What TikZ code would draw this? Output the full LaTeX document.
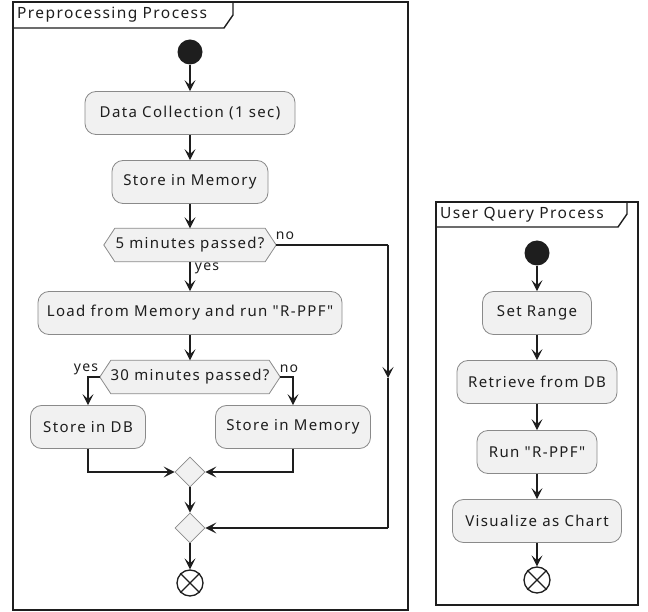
\documentclass[tikz,border=0pt]{standalone}
\usepackage{fontspec}
\setmainfont{Noto Sans}[LetterSpace=9, Ligatures=TeXOff]
\usetikzlibrary{arrows.meta,shapes.geometric,backgrounds,calc}
\definecolor{boxfill}{HTML}{F1F1F1}
\definecolor{boxline}{HTML}{8A8A8A}
\definecolor{ink}{HTML}{1E1E1E}
\newcommand{\actfont}{\fontsize{15}{17}\selectfont}
\begin{document}
\begin{tikzpicture}[x=1pt,y=-1pt,
  act/.style={draw=boxline, fill=boxfill, rounded corners=11pt, minimum height=43pt, inner xsep=4pt, font=\actfont, text=ink, line width=0.8pt},
  hexa/.style={minimum height=33pt, inner sep=0pt, font=\actfont, text=ink},
  hexpath/.style={draw=boxline, fill=boxfill, line width=0.8pt},
  merge/.style={diamond, draw=boxline, fill=boxfill, minimum width=30pt, minimum height=30pt, inner sep=0pt, line width=0.8pt},
  startnode/.style={circle, fill=ink, minimum size=25pt, inner sep=0pt},
  endnode/.style={circle, draw=ink, line width=1.3pt, minimum size=26pt, inner sep=0pt},
  flow/.style={draw=ink, line width=1.1pt, -{Stealth[length=11pt,width=11pt,inset=5pt]}},
  plain/.style={draw=ink, line width=1.1pt},
  lbl/.style={font=\fontsize{14}{16}\selectfont, text=ink, inner sep=1pt},
  frame/.style={draw=ink, line width=1.4pt},
  ftitle/.style={font=\fontsize{15.5}{17}\selectfont, text=ink, anchor=west, inner sep=0pt}
]
\useasboundingbox (0,0) rectangle (648,612);

% ---------- left frame ----------
\draw[frame] (13,2) rectangle (408,610);
\draw[frame] (13,28) -- (224,28) -- (233,15) -- (233,2);
\node[ftitle] (t1) at (17,15) {Preprocessing Process};

\node[startnode] (s1) at (190,52) {};
\node[act, minimum width=210pt] (a1) at (190,113) {Data Collection (1 sec)};
\node[act, minimum width=156pt] (a2) at (190,182) {Store in Memory};
\node[hexa, minimum width=172pt] (d1) at (190,245) {5 minutes passed?};
\node[act, minimum width=304pt] (a3) at (190,313) {Load from Memory and run "R-PPF"};
\node[hexa, minimum width=180pt] (d2) at (190,377) {30 minutes passed?};
\node[act, minimum width=115pt] (a4) at (88,427) {Store in DB};
\node[act, minimum width=155pt] (a5) at (293,427) {Store in Memory};
\node[merge] (m1) at (190,472) {};
\node[merge] (m2) at (190,528) {};
\node[endnode] (e1) at (190,583) {};
\draw[ink, line width=1.3pt] (e1.45) -- (e1.225) (e1.135) -- (e1.315);

\begin{scope}[on background layer]
\fill[white] (0,0) rectangle (648,612);
\path[hexpath] ([xshift=11pt]d1.north west) -- ([xshift=-11pt]d1.north east) -- (d1.east) -- ([xshift=-11pt]d1.south east) -- ([xshift=11pt]d1.south west) -- (d1.west) -- cycle;
\path[hexpath] ([xshift=11pt]d2.north west) -- ([xshift=-11pt]d2.north east) -- (d2.east) -- ([xshift=-11pt]d2.south east) -- ([xshift=11pt]d2.south west) -- (d2.west) -- cycle;
\end{scope}

\coordinate (c1) at (388,245);
\coordinate (cm) at (388,378);
\coordinate (c2) at (388,528);

\draw[flow] (s1) -- (a1);
\draw[flow] (a1) -- (a2);
\draw[flow] (a2) -- (d1);
\draw[flow] (d1) -- (a3);
\node[lbl] (ly1) at (207,268) {yes};
\draw[plain] (d1.east) -- (c1);
\node[lbl] (ln1) at (285,236) {no};
\draw[flow] (c1) -- (cm);
\draw[plain] (cm) -- (c2);
\draw[flow] (c2) -- (m2.east);
\draw[flow] (a3) -- (d2);
\draw[flow] (d2.west) -| (a4.north);
\draw[flow] (d2.east) -| (a5.north);
\node[lbl] (ly2) at (86,369) {yes};
\node[lbl] (ln2) at (289,369) {no};
\draw[flow] (a4.south) |- (m1.west);
\draw[flow] (a5.south) |- (m1.east);
\draw[flow] (m1) -- (m2);
\draw[flow] (m2) -- (e1);

% ---------- right frame ----------
\draw[frame] (436,202) rectangle (638,605);
\draw[frame] (436,227) -- (618,227) -- (627,214) -- (627,202);
\node[ftitle] (t2) at (440,214.5) {User Query Process};

\node[startnode] (s2) at (537,253) {};
\node[act, minimum width=109pt] (b1) at (537,313) {Set Range};
\node[act, minimum width=160pt] (b2) at (537,382) {Retrieve from DB};
\node[act, minimum width=120pt] (b3) at (537,452) {Run "R-PPF"};
\node[act, minimum width=169pt] (b4) at (537,521) {Visualize as Chart};
\node[endnode] (e2) at (537,580) {};
\draw[ink, line width=1.3pt] (e2.45) -- (e2.225) (e2.135) -- (e2.315);

\draw[flow] (s2) -- (b1);
\draw[flow] (b1) -- (b2);
\draw[flow] (b2) -- (b3);
\draw[flow] (b3) -- (b4);
\draw[flow] (b4) -- (e2);
\end{tikzpicture}
\end{document}
